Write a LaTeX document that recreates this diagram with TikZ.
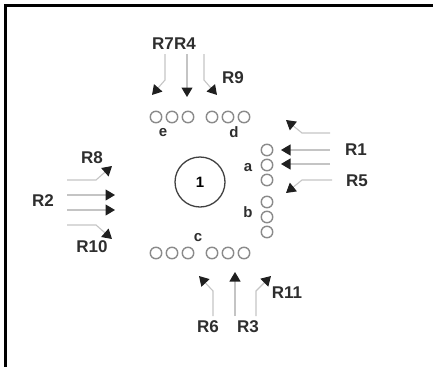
\documentclass[tikz,border=0pt]{standalone}
\usepackage{fontspec}
\setmainfont{Liberation Sans}
\usetikzlibrary{arrows.meta}
\definecolor{lbl}{HTML}{2E2E2E}
\definecolor{ring}{HTML}{8A8A8A}
\definecolor{wire}{HTML}{C4C4C4}
\begin{document}
\begin{tikzpicture}[x=1pt,y=-1pt,
  lab/.style={font=\bfseries\fontsize{17}{17}\selectfont,text=lbl,inner sep=0pt},
  small/.style={font=\bfseries\fontsize{15}{15}\selectfont,text=lbl,inner sep=0pt},
  pin/.style={circle,draw=ring,line width=1.4pt,minimum size=11.5pt,inner sep=0pt},
  wirearrow/.style={draw=wire,line width=1.1pt,-{Triangle[length=9.5pt,width=11pt,color=black!88]}},
  frameline/.style={line width=3pt,black}]
\useasboundingbox (0,0) rectangle (433,367);
% frame
\coordinate (f1) at (433,5.5);
\coordinate (f0) at (5,5.5);
\coordinate (f2) at (5,367);
\draw[frameline] (f1) -- (f0) -- (f2);
% central circle
\node[circle,draw=black!75,line width=1.3pt,minimum size=50pt,inner sep=0pt,font=\bfseries\fontsize{15}{15}\selectfont] (one) at (200,182) {1};
% top pins (e, d)
\node[pin] (e1) at (156,117) {};
\node[pin] (e2) at (172,117) {};
\node[pin] (e3) at (188,117) {};
\node[pin] (d1) at (212,117) {};
\node[pin] (d2) at (228,117) {};
\node[pin] (d3) at (244,117) {};
% bottom pins (c)
\node[pin] (c1) at (156,253) {};
\node[pin] (c2) at (172,253) {};
\node[pin] (c3) at (188,253) {};
\node[pin] (c4) at (212,253) {};
\node[pin] (c5) at (228,253) {};
\node[pin] (c6) at (244,253) {};
% right pins (a, b)
\node[pin] (a1) at (267,150) {};
\node[pin] (a2) at (267,165) {};
\node[pin] (a3) at (267,180) {};
\node[pin] (b1) at (267,202) {};
\node[pin] (b2) at (267,217) {};
\node[pin] (b3) at (267,232) {};
% pin labels
\node[small] (la) at (248,168) {a};
\node[small] (lb) at (248,212) {b};
\node[small] (lc) at (198,238) {c};
\node[small] (ld) at (234,132) {d};
\node[small] (le) at (163,133) {e};
% labels
\node[lab,anchor=east] (R7) at (174,44) {R7};
\node[lab,anchor=west] (R4) at (174,44) {R4};
\node[lab] (R9) at (233,78) {R9};
\node[lab] (R1) at (356,150) {R1};
\node[lab] (R5) at (357,181) {R5};
\node[lab] (R8) at (92,158) {R8};
\node[lab] (R2) at (43,201) {R2};
\node[lab] (R10) at (92,247) {R10};
\node[lab] (R6) at (208,327) {R6};
\node[lab] (R3) at (248,327) {R3};
\node[lab] (R11) at (287,293) {R11};
% top arrows
\coordinate (s7) at (165,54); \coordinate (k7) at (165,80); \coordinate (t7) at (152,95);
\coordinate (s4) at (187,54); \coordinate (t4) at (187,97);
\coordinate (s9) at (204,54); \coordinate (k9) at (204,80); \coordinate (t9) at (217,95);
\draw[wirearrow] (s7) -- (k7) -- (t7);
\draw[wirearrow] (s4) -- (t4);
\draw[wirearrow] (s9) -- (k9) -- (t9);
% right arrows
\coordinate (s1a) at (330,133); \coordinate (k1a) at (302,133); \coordinate (t1a) at (286,120);
\coordinate (s1b) at (330,150); \coordinate (t1b) at (281,150);
\coordinate (s1c) at (330,164); \coordinate (t1c) at (281,164);
\coordinate (s5) at (332,180); \coordinate (k5) at (302,180); \coordinate (t5) at (286,193);
\draw[wirearrow] (s1a) -- (k1a) -- (t1a);
\draw[wirearrow] (s1b) -- (t1b);
\draw[wirearrow] (s1c) -- (t1c);
\draw[wirearrow] (s5) -- (k5) -- (t5);
% left arrows
\coordinate (s8) at (67,180); \coordinate (k8) at (96,180); \coordinate (t8) at (112,166);
\coordinate (s2a) at (67,195); \coordinate (t2a) at (115,195);
\coordinate (s2b) at (67,210); \coordinate (t2b) at (115,210);
\coordinate (s10) at (67,225); \coordinate (k10) at (96,225); \coordinate (t10) at (112,239);
\draw[wirearrow] (s8) -- (k8) -- (t8);
\draw[wirearrow] (s2a) -- (t2a);
\draw[wirearrow] (s2b) -- (t2b);
\draw[wirearrow] (s10) -- (k10) -- (t10);
% bottom arrows
\coordinate (s6) at (213,316); \coordinate (k6) at (213,291); \coordinate (t6) at (199,276);
\coordinate (s3) at (235,316); \coordinate (t3) at (235,272);
\coordinate (s11) at (256,316); \coordinate (k11) at (256,291); \coordinate (t11) at (271,276);
\draw[wirearrow] (s6) -- (k6) -- (t6);
\draw[wirearrow] (s3) -- (t3);
\draw[wirearrow] (s11) -- (k11) -- (t11);
\end{tikzpicture}
\end{document}
